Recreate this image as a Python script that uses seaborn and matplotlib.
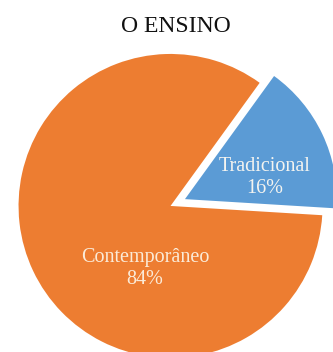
import matplotlib
matplotlib.use("Agg")
import matplotlib.pyplot as plt
import seaborn as sns

# Data
categories = ["Tradicional", "Contemporâneo"]
values = [16, 84]
pct_labels = ["16%", "84%"]
title = "O ENSINO"

sns.set_theme(style="white")
plt.rcParams["font.family"] = ["Liberation Serif", "DejaVu Serif"]

colors = ["#5B9BD5", "#ED7D31"]

fig = plt.figure(figsize=(3.33, 3.52), dpi=100)
ax = fig.add_axes([0, 0, 1, 1])
wedges, _ = ax.pie(values, colors=colors, startangle=-3.5, counterclock=True,
                   explode=[0.105, 0], radius=1.0,
                   wedgeprops=dict(linewidth=0))
ax.set_aspect("auto")
ax.set_xlim(-1.122, 1.069)
ax.set_ylim(-0.961, 1.355)
ax.axis("off")

label_pos = [(0.622, 0.1875), (-0.168, -0.411)]
label_colors = ["#F4F4F0", "#FBEBD8"]
for (x, y), cat, pct, c in zip(label_pos, categories, pct_labels, label_colors):
    ax.text(x, y, f"{cat}\n{pct}", ha="center", va="center", fontsize=14.5,
            color=c, linespacing=1.2)

fig.text(0.527, 1 - 32 / 352, title, ha="center", va="baseline",
         fontsize=17, color="#111111")

fig.savefig("out.png", dpi=100, facecolor="white")
